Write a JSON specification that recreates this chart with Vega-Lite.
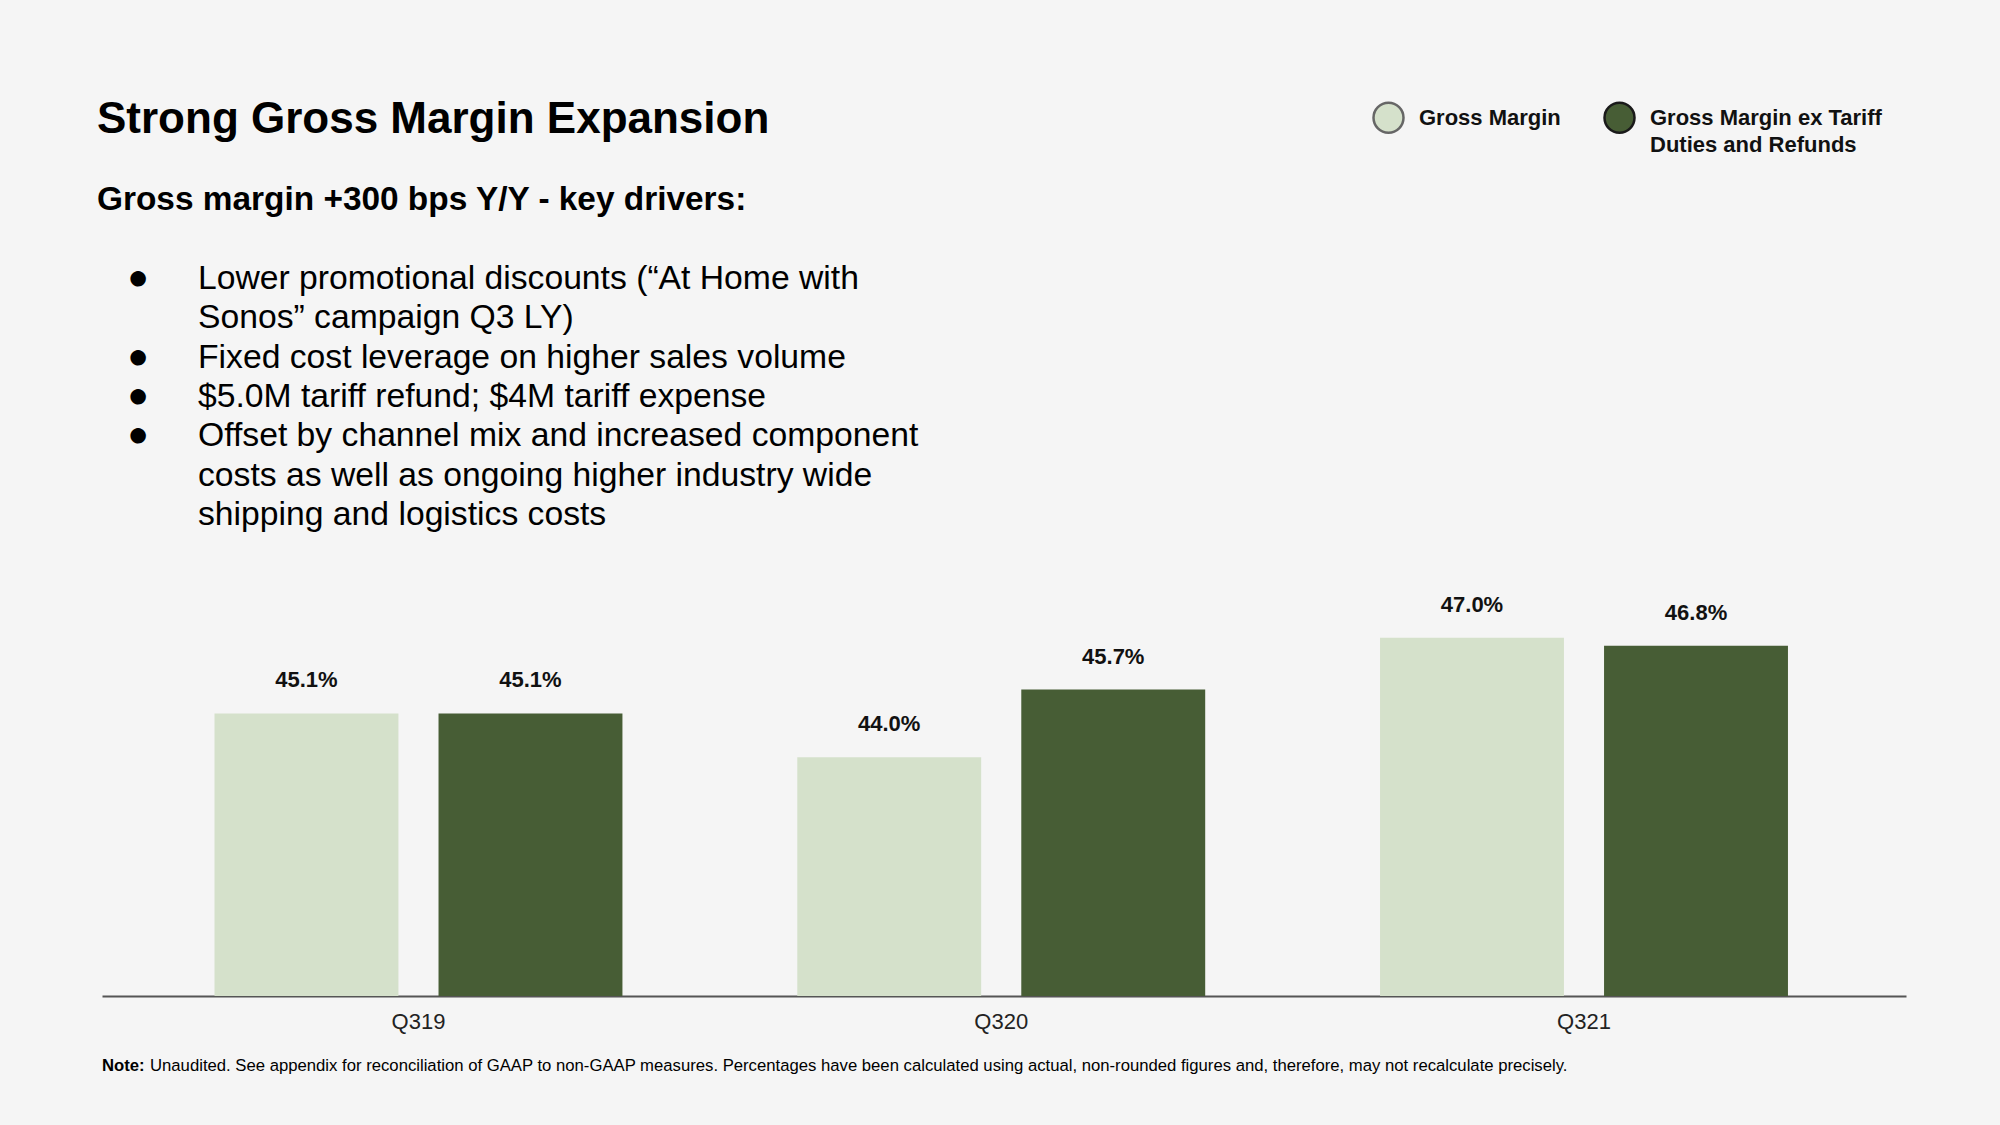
{
  "$schema": "https://vega.github.io/schema/vega-lite/v6.json",
  "background": "#f5f5f5",
  "padding": {"left": 97, "top": 97, "right": 94, "bottom": 50},
  "autosize": {"type": "pad"},
  "bounds": "flush",
  "spacing": 60,
  "config": {
    "font": "Liberation Sans",
    "view": {"stroke": null},
    "legend": {"symbolOpacity": 1}
  },
  "vconcat": [
    {
      "width": 1804,
      "height": 249,
      "title": {
        "text": "Strong Gross Margin Expansion",
        "subtitle": "Gross margin +300 bps Y/Y - key drivers:",
        "anchor": "start",
        "frame": "group",
        "fontSize": 44,
        "fontWeight": "bold",
        "color": "#000000",
        "subtitleFontSize": 33.4,
        "subtitleFontWeight": "bold",
        "subtitleColor": "#000000",
        "subtitlePadding": 42,
        "offset": 44,
        "dx": -5
      },
      "data": {
        "values": [
          {"row": 1, "bullet": "●", "line": "Lower promotional discounts (“At Home with"},
          {"row": 2, "bullet": "", "line": "Sonos” campaign Q3 LY)"},
          {"row": 3, "bullet": "●", "line": "Fixed cost leverage on higher sales volume"},
          {"row": 4, "bullet": "●", "line": "$5.0M tariff refund; $4M tariff expense"},
          {"row": 5, "bullet": "●", "line": "Offset by channel mix and increased component"},
          {"row": 6, "bullet": "", "line": "costs as well as ongoing higher industry wide"},
          {"row": 7, "bullet": "", "line": "shipping and logistics costs"}
        ]
      },
      "encoding": {
        "y": {"field": "row", "type": "ordinal", "axis": null, "scale": {"type": "point", "padding": 0.166, "align": 0}}
      },
      "layer": [
        {
          "mark": {"type": "text", "align": "center", "baseline": "alphabetic", "fontSize": 36, "dx": 36, "dy": 0, "color": "#000000"},
          "encoding": {"text": {"field": "bullet"}, "x": {"value": 0}}
        },
        {
          "mark": {"type": "text", "align": "left", "baseline": "alphabetic", "fontSize": 33.7, "dx": 96, "color": "#000000"},
          "encoding": {"text": {"field": "line"}, "x": {"value": 0}}
        }
      ]
    },
    {
      "width": 1804,
      "height": 398,
      "data": {
        "values": [
          {"quarter": "Q319", "series": "Gross Margin", "value": 0.451},
          {"quarter": "Q319", "series": "Gross Margin ex Tariff Duties and Refunds", "value": 0.451},
          {"quarter": "Q320", "series": "Gross Margin", "value": 0.440},
          {"quarter": "Q320", "series": "Gross Margin ex Tariff Duties and Refunds", "value": 0.457},
          {"quarter": "Q321", "series": "Gross Margin", "value": 0.470},
          {"quarter": "Q321", "series": "Gross Margin ex Tariff Duties and Refunds", "value": 0.468}
        ]
      },
      "encoding": {
        "x": {
          "field": "quarter", "type": "nominal", "sort": null,
          "scale": {"paddingInner": 0.3, "paddingOuter": 0.1978, "align": 0.488},
          "axis": {"title": null, "labelAngle": 0, "labelFontSize": 22, "labelColor": "#222222", "domainColor": "#555555", "domainWidth": 2, "ticks": false, "labelPadding": 15, "grid": false}
        },
        "xOffset": {"field": "series", "type": "nominal", "sort": null, "scale": {"paddingInner": 0.179, "paddingOuter": 0}},
        "y": {"field": "value", "type": "quantitative", "scale": {"domain": [0.38, 0.48], "zero": false, "nice": false}, "axis": null}
      },
      "layer": [
        {
          "mark": {"type": "bar"},
          "encoding": {
            "y2": {"datum": 0.38},
            "color": {
              "field": "series", "type": "nominal",
              "scale": {"domain": ["Gross Margin", "Gross Margin ex Tariff Duties and Refunds"], "range": ["#d5e1cb", "#475d35"]},
              "legend": {
                "orient": "none", "legendX": 1270, "legendY": -188,
                "direction": "horizontal", "title": null,
                "symbolType": "circle", "symbolSize": 900, "symbolStrokeWidth": 2.5,
                "labelFontSize": 22, "labelFontWeight": "bold", "labelColor": "#111111",
                "labelOffset": 14, "columnPadding": 38, "labelLimit": 400,
                "labelExpr": "datum.label == 'Gross Margin' ? ['Gross Margin', ''] : ['Gross Margin ex Tariff', 'Duties and Refunds']",
                "encode": {
                  "symbols": {"update": {"stroke": {"signal": "datum.value == 'Gross Margin' ? '#666666' : '#1a1a1a'"}}},
                  "labels": {"update": {"lineHeight": {"value": 27}}}
                }
              }
            }
          }
        },
        {
          "mark": {"type": "text", "baseline": "middle", "dy": -33, "fontSize": 22, "fontWeight": "bold", "color": "#111111"},
          "encoding": {"text": {"field": "value", "type": "quantitative", "format": ".1%"}}
        }
      ]
    },
    {
      "width": 1804,
      "height": 20,
      "data": {"values": [{"lead": "Note:", "note": "Unaudited. See appendix for reconciliation of GAAP to non-GAAP measures. Percentages have been calculated using actual, non-rounded figures and, therefore, may not recalculate precisely."}]},
      "layer": [
        {
          "mark": {"type": "text", "align": "left", "baseline": "middle", "fontSize": 16.7, "fontWeight": "bold", "color": "#000000"},
          "encoding": {"text": {"field": "lead"}, "x": {"value": 0}}
        },
        {
          "mark": {"type": "text", "align": "left", "baseline": "middle", "fontSize": 16.7, "dx": 48, "color": "#000000"},
          "encoding": {"text": {"field": "note"}, "x": {"value": 0}}
        }
      ]
    }
  ]
}
